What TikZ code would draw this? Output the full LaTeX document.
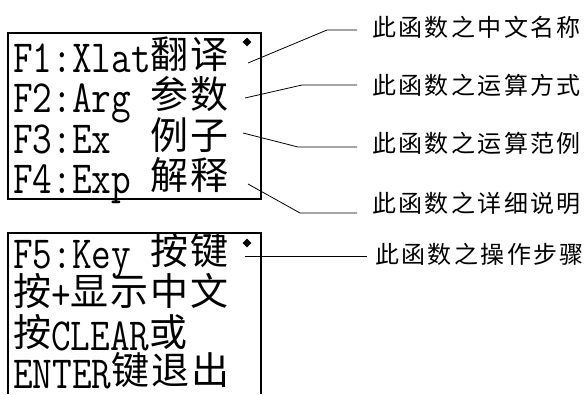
\documentclass[tikz,border=0pt]{standalone}
\usepackage{fontspec}
\usepackage{graphicx}
\usetikzlibrary{shapes.geometric}
\newfontfamily\cjk{Noto Sans CJK SC}
\newfontfamily\tagfont{Noto Sans CJK SC}[LetterSpace=10]
% half width (latin) and full width (chinese) characters of the display
\newcommand{\lat}[1]{\scalebox{0.83}[1]{\fontsize{46}{46}\ttfamily #1}}
\newcommand{\hans}[1]{\raisebox{4pt}{\fontsize{38}{38}\cjk\addfontfeature{LetterSpace=5}#1}}
\begin{document}
\begin{tikzpicture}[
	x=1pt, y=-1pt,
	screen/.style={
		line width=1.6pt,
	},
	row/.style={
		anchor=base west,
		inner sep=0pt,
	},
	bullet/.style={% small diamond at the top right of a screen
		diamond,
		fill,
		inner sep=0pt,
		minimum size=9pt,
	},
	tag/.style={
		anchor=west,
		inner sep=0pt,
		font=\fontsize{24}{24}\tagfont,
	},
	Leader/.style={% thin lines from the screen to the tags
		line width=0.8pt,
		shorten >=15pt,
	},
]
	\useasboundingbox (0,0) rectangle (588,394);

	% first screen
	\draw [screen] (8,33) rectangle (261,199);
	\node [row] (r1) at (13,72) {\lat{F1:Xlat}\hans{翻译}};
	\node [row] (r2) at (13,112) {\lat{F2:Arg\ }\hans{参数}};
	\node [row] (r3) at (13,153) {\lat{F3:Ex\ \ }\hans{例子}};
	\node [row] (r4) at (13,193) {\lat{F4:Exp\ }\hans{解释}};
	\node [bullet] (b1) at (247,42) {};

	% second screen, open at the bottom
	\draw [screen] (8,394) -- (8,233) -- (261,233) -- (261,394);
	\node [row] (r5) at (13,268) {\lat{F5:Key\ }\hans{按键}};
	\node [row] (r6) at (13,309) {\hans{按}\lat{+}\hans{显示中文}};
	\node [row] (r7) at (13,350) {\hans{按}\lat{CLEAR}\hans{或}};
	\node [row] (r8) at (13,388) {\lat{ENTER}\hans{键退出}};
	\node [bullet] (b2) at (247,243) {};

	% tags
	\node [tag] (t1) at (372,27) {此函数之中文名称};
	\node [tag] (t2) at (372,85) {此函数之运算方式};
	\node [tag] (t3) at (372,143) {此函数之运算范例};
	\node [tag] (t4) at (372,203) {此函数之详细说明};
	\node [tag] (t5) at (375,254) {此函数之操作步骤};

	\coordinate (p1) at (248,63);
	\coordinate (p2) at (245,98);
	\coordinate (p3) at (243,133);
	\coordinate (p4) at (248,184);
	\coordinate (p5) at (245,256);
	\coordinate (e1) at (327,30);
	\coordinate (e2) at (302,85);
	\coordinate (e3) at (298,147);
	\coordinate (e4) at (300,213);

	\draw [Leader] (p1) -- (e1) -- (t1.west |- e1);
	\draw [Leader] (p2) -- (e2) -- (t2.west |- e2);
	\draw [Leader] (p3) -- (e3) -- (t3.west |- e3);
	\draw [Leader] (p4) -- (e4) -- (t4.west |- e4);
	\draw [Leader,shorten >=8pt] (p5) -- (t5.west |- p5);
\end{tikzpicture}
\end{document}
